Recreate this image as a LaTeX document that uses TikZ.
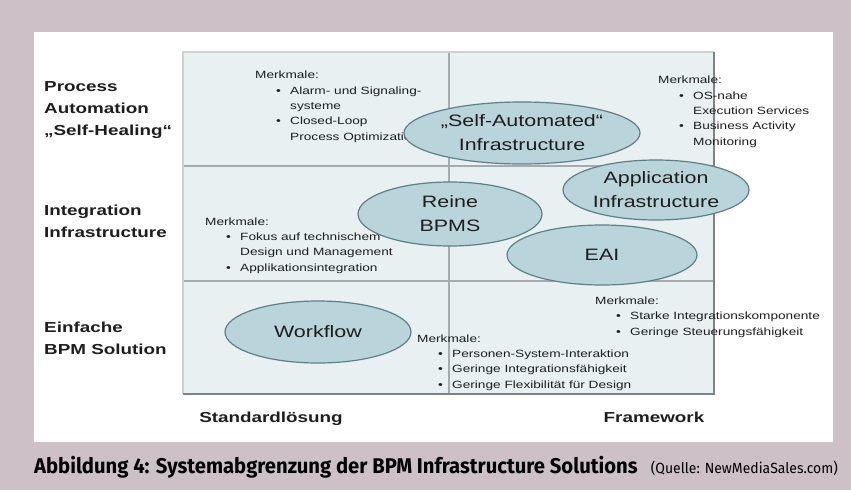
\documentclass[tikz,border=0pt]{standalone}
\usepackage{fontspec}
\setmainfont{Liberation Sans}
\newfontfamily\breit[FakeStretch=1.3]{Liberation Sans}
\newfontfamily\capfont[FakeStretch=0.95]{Fira Sans}
\usetikzlibrary{shapes.geometric}
\definecolor{rahmen}{RGB}{205,193,199}
\definecolor{feld}{RGB}{232,240,242}
\definecolor{ovalfill}{RGB}{185,213,219}
\definecolor{ovalrand}{RGB}{95,127,134}
\definecolor{linie}{RGB}{165,171,175}
\definecolor{hell}{RGB}{205,210,213}
\definecolor{dunkel}{RGB}{125,132,136}
\definecolor{schrift}{RGB}{30,30,30}
\tikzset{
	oval/.style={ellipse, draw=ovalrand, fill=ovalfill, line width=1.2pt, inner sep=0pt, align=center, text=schrift,
			font=\breit\fontsize{16.5}{24}\selectfont},
	merk/.style={anchor=base west, inner sep=0pt, align=left, text=schrift, font=\breit\fontsize{10.5}{15.3}\selectfont},
	zeile/.style={anchor=base west, inner sep=0pt, align=left, text=schrift, font=\breit\bfseries\fontsize{14.5}{22}\selectfont},
	achse/.style={anchor=base, inner sep=0pt, text=schrift, font=\breit\bfseries\fontsize{14.5}{17}\selectfont}
}
\newcommand{\pkt}{\hspace*{21pt}\makebox[14pt][l]{\textbullet}}
\newcommand{\wtr}{\hspace*{35pt}}

\begin{document}
\begin{tikzpicture}[x=1pt, y=-1pt]
	\fill[rahmen] (0,0) rectangle (851,490);
	\useasboundingbox (0,0) rectangle (851,490);
	\fill[white] (34,32) rectangle (833,442);

	\fill[feld]	(183,52) rectangle (714,394);
	\draw[linie, line width=1.5pt]	(449,52) to (449,394);
	\draw[linie, line width=2.5pt]	(183,166) to (714,166)
						(183,281) to (714,281);
	\draw[hell, line width=2pt]	(183,394) to (183,52) to (714,52);
	\draw[dunkel, line width=2pt]	(183,394) to (714,394) to (714,52);

	% base = baseline of the last line
	\node[zeile] (prozess) at (44,135) {Process\\Automation\\„Self-Healing“};
	\node[zeile] (integr) at (44,237) {Integration\\Infrastructure};
	\node[zeile] (einfach) at (44,354) {Einfache\\BPM Solution};

	\node[achse] (standard) at (271,422) {Standardlösung};
	\node[achse] (frame) at (654,422) {Framework};

	\node[merk] (mOL) at (255,140) {Merkmale:\\\pkt Alarm- und Signaling-\\\wtr systeme\\\pkt Closed-Loop\\\wtr Process Optimization};
	\node[merk] (mOR) at (658,145) {Merkmale:\\\pkt OS-nahe\\\wtr Execution Services\\\pkt Business Activity\\\wtr Monitoring};
	\node[merk] (mML) at (205,271) {Merkmale:\\\pkt Fokus auf technischem\\\wtr Design und Management\\\pkt Applikationsintegration};
	\node[merk] (mUR) at (595,335) {Merkmale:\\\pkt Starke Integrationskomponente\\\pkt Geringe Steuerungsfähigkeit};
	\node[merk] (mUM) at (417,388) {Merkmale:\\\pkt Personen-System-Interaktion\\\pkt Geringe Integrationsfähigkeit\\\pkt Geringe Flexibilität für Design};

	\node[oval, minimum width=236, minimum height=62] (selbst) at (522,133) {„Self-Automated“\\Infrastructure};
	\node[oval, minimum width=186, minimum height=60] (anwend) at (656,190) {Application\\Infrastructure};
	\node[oval, minimum width=184, minimum height=64] (reine) at (450,214) {Reine\\BPMS};
	\node[oval, minimum width=190, minimum height=60] (eai) at (602,255) {EAI};
	\node[oval, minimum width=186, minimum height=62] (workflow) at (318,332) {Workflow};

	\node[anchor=base west, inner sep=0pt, font=\capfont\bfseries\fontsize{21.3}{24}\selectfont] (titel) at (34,473)
		{Abbildung 4: Systemabgrenzung der BPM Infrastructure Solutions};
	\node[anchor=base east, inner sep=0pt, font=\capfont\fontsize{14.7}{17}\selectfont] (quelle) at (838,473)
		{(Quelle: NewMediaSales.com)};
\end{tikzpicture}
\end{document}
